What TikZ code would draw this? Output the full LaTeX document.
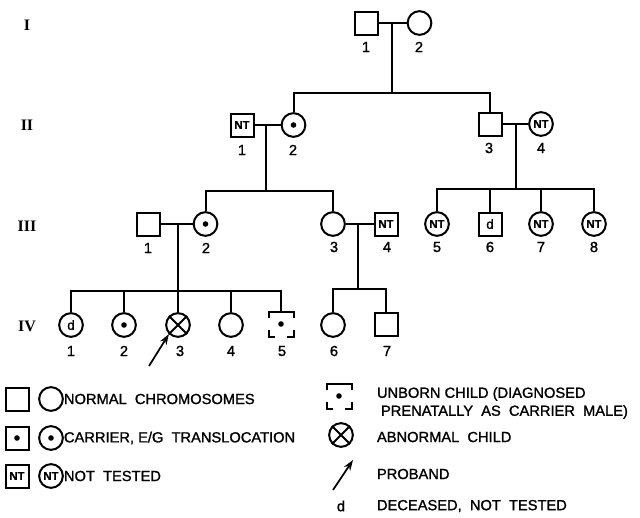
\documentclass[tikz,border=0pt]{standalone}
\usepackage{fontspec}
\setmainfont{Liberation Sans}[RawFeature={embolden=1.3}]
\newfontfamily\romfont{Liberation Serif}
\usetikzlibrary{arrows.meta}
\begin{document}
\begin{tikzpicture}[x=0.75pt,y=-0.75pt,
  every path/.style={line width=1.5pt},
  msq/.style={draw,rectangle,minimum size=17.25pt,inner sep=0pt,line width=1.5pt},
  fci/.style={draw,circle,minimum size=17.8pt,inner sep=0pt,line width=1.5pt},
  ntx/.style={font=\bfseries\fontsize{8.5}{8.5}\selectfont},
  dtx/.style={font=\fontsize{10}{10}\selectfont},
  num/.style={font=\fontsize{11}{11}\selectfont,inner sep=0pt},
  gen/.style={font=\romfont\bfseries\fontsize{12}{12}\selectfont,inner sep=0pt},
  leg/.style={font=\fontsize{11}{11}\selectfont,anchor=west,inner sep=0pt},
  dotc/.style={fill,circle,inner sep=0pt,minimum size=4.2pt,line width=0pt},
  prob/.style={-{Stealth[length=8pt,width=5.5pt]},line width=1.3pt}
]
\useasboundingbox (0,0) rectangle (640,518);

% generation labels
\node[gen] (gI) at (27,25) {I};
\node[gen] (gII) at (27,125) {II};
\node[gen] (gIII) at (27,226) {III};
\node[gen] (gIV) at (27,326) {IV};

% Generation I
\node[msq] (i1) at (366.5,23) {};
\node[fci] (i2) at (419.5,23) {};
\node[num] (li1) at (366,47) {1};
\node[num] (li2) at (419,47) {2};
\coordinate (mi) at (392,23);
\coordinate (bi) at (392,93);
\draw (i1.east) -- (i2.west);
\draw (mi) -- (bi);

% Generation II
\node[msq,ntx] (ii1) at (242,125) {NT};
\node[fci] (ii2) at (293.5,125) {};
\node[dotc] (dii2) at (ii2) {};
\node[msq] (ii3) at (490,124) {};
\node[fci,ntx] (ii4) at (541,124) {NT};
\node[num] (lii1) at (242,150) {1};
\node[num] (lii2) at (293,150) {2};
\node[num] (lii3) at (489,148) {3};
\node[num] (lii4) at (541,148) {4};
\draw (ii2.north) |- (bi) -| (ii3.north);
\draw (ii1.east) -- (ii2.west);
\draw (ii3.east) -- (ii4.west);
\coordinate (mii1) at (266,125);
\coordinate (bii1) at (266,191);
\coordinate (mii2) at (516,124);
\coordinate (bii2) at (516,189);
\draw (mii1) -- (bii1);
\draw (mii2) -- (bii2);

% Generation III
\node[msq] (iii1) at (148.5,224) {};
\node[fci] (iii2) at (205.5,224) {};
\node[dotc] (diii2) at (iii2) {};
\node[fci] (iii3) at (333,224) {};
\node[msq,ntx] (iii4) at (386,224) {NT};
\node[fci,ntx] (iii5) at (437,224) {NT};
\node[msq,dtx] (iii6) at (490,224) {d};
\node[fci,ntx] (iii7) at (541,224) {NT};
\node[fci,ntx] (iii8) at (594,224) {NT};
\node[num] (liii1) at (148,248) {1};
\node[num] (liii2) at (206,248) {2};
\node[num] (liii3) at (334,247) {3};
\node[num] (liii4) at (387,247) {4};
\node[num] (liii5) at (437,247) {5};
\node[num] (liii6) at (490,247) {6};
\node[num] (liii7) at (541,247) {7};
\node[num] (liii8) at (594,247) {8};
\draw (iii2.north) |- (bii1) -| (iii3.north);
\draw (iii5.north) |- (bii2) -| (iii8.north);
\draw (iii6.north) -- (iii6.north |- bii2);
\draw (iii7.north) -- (iii7.north |- bii2);
\draw (iii1.east) -- (iii2.west);
\draw (iii3.east) -- (iii4.west);
\coordinate (miii1) at (178,224);
\coordinate (biii1) at (178,291);
\coordinate (miii2) at (358,224);
\coordinate (biii2) at (358,289);
\draw (miii1) -- (biii1);
\draw (miii2) -- (biii2);

% Generation IV
\node[fci,dtx] (iv1) at (71,325) {d};
\node[fci] (iv2) at (124,325) {};
\node[dotc] (div2) at (iv2) {};
\node[fci] (iv3) at (178,325) {};
\draw (iv3.north east) -- (iv3.south west);
\draw (iv3.north west) -- (iv3.south east);
\node[fci] (iv4) at (231,325) {};
\node[msq,draw=none] (iv5) at (281,324) {};
\node[dotc] (div5) at (iv5) {};
\draw ([yshift=-5pt]iv5.north west) -- (iv5.north west) -- (iv5.north east) -- ([yshift=-5pt]iv5.north east);
\draw ([yshift=5pt]iv5.south west) -- (iv5.south west) -- ([xshift=5pt]iv5.south west);
\draw ([yshift=5pt]iv5.south east) -- (iv5.south east) -- ([xshift=-5pt]iv5.south east);
\node[fci] (iv6) at (333,325) {};
\node[msq] (iv7) at (386,324) {};
\node[num] (liv1) at (71,351) {1};
\node[num] (liv2) at (124,351) {2};
\node[num] (liv3) at (180,351) {3};
\node[num] (liv4) at (231,351) {4};
\node[num] (liv5) at (282,351) {5};
\node[num] (liv6) at (334,351) {6};
\node[num] (liv7) at (387,351) {7};
\draw (iv1.north) |- (biii1) -| (iv5.north);
\draw (iv2.north) -- (iv2.north |- biii1);
\draw (iv3.north) -- (iv3.north |- biii1);
\draw (iv4.north) -- (iv4.north |- biii1);
\draw (iv6.north) |- (biii2) -| (iv7.north);
\coordinate (pa) at (149,366);
\draw[prob] (pa) -- (iv3.south west);

% Legend left
\node[msq] (l1a) at (17,399) {};
\node[fci] (l1b) at (51,399) {};
\node[leg] (t1) at (63,399) {NORMAL\ \ CHROMOSOMES};
\node[msq] (l2a) at (17,438) {};
\node[dotc] (dl2a) at (l2a) {};
\node[fci] (l2b) at (51,438) {};
\node[dotc] (dl2b) at (l2b) {};
\node[leg] (t2) at (63,438) {CARRIER, E/G\ \ TRANSLOCATION};
\node[msq,ntx] (l3a) at (17,476) {NT};
\node[fci,ntx] (l3b) at (51,476) {NT};
\node[leg] (t3) at (63,476) {NOT\ \ TESTED};

% Legend right
\node[msq,draw=none] (r1) at (339,396) {};
\node[dotc] (dr1) at (r1) {};
\draw ([yshift=-5pt]r1.north west) -- (r1.north west) -- (r1.north east) -- ([yshift=-5pt]r1.north east);
\draw ([yshift=5pt]r1.south west) -- (r1.south west) -- ([xshift=5pt]r1.south west);
\draw ([yshift=5pt]r1.south east) -- (r1.south east) -- ([xshift=-5pt]r1.south east);
\node[leg] (tr1) at (376,394) {UNBORN CHILD (DIAGNOSED};
\node[leg] (tr1b) at (380,412) {PRENATALLY\ \ AS\ \ CARRIER\ \ MALE)};
\node[fci] (r2) at (341,435) {};
\draw (r2.north east) -- (r2.south west);
\draw (r2.north west) -- (r2.south east);
\node[leg] (tr2) at (376,437) {ABNORMAL\ \ CHILD};
\coordinate (r3a) at (333,490);
\coordinate (r3b) at (353,460);
\draw[prob] (r3a) -- (r3b);
\node[leg] (tr3) at (376,474) {PROBAND};
\node[num] (r4) at (341,506) {d};
\node[leg] (tr4) at (376,506) {DECEASED,\ \ NOT\ \ TESTED};
\end{tikzpicture}
\end{document}
